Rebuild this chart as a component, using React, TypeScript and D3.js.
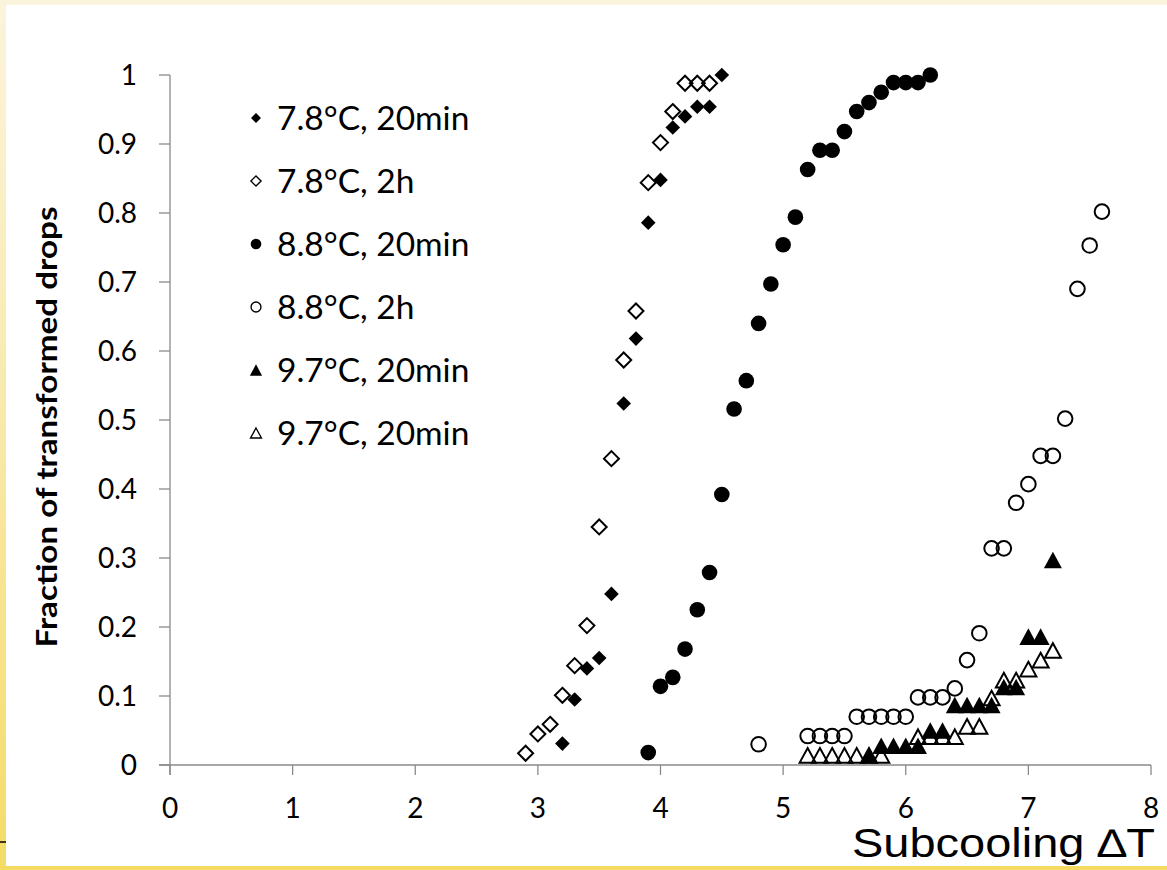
import React from "react";
import * as d3 from "d3";

// ---- data ----
const xTicks = [0, 1, 2, 3, 4, 5, 6, 7, 8];
const yTicks = [0, 0.1, 0.2, 0.3, 0.4, 0.5, 0.6, 0.7, 0.8, 0.9, 1];
const yTickLabels = ["0", "0.1", "0.2", "0.3", "0.4", "0.5", "0.6", "0.7", "0.8", "0.9", "1"];

const s1x = [3.2, 3.3, 3.4, 3.5, 3.6, 3.7, 3.8, 3.9, 4.0, 4.1, 4.2, 4.3, 4.4, 4.5];
const s1y = [0.031, 0.095, 0.14, 0.155, 0.248, 0.524, 0.618, 0.786, 0.848, 0.924, 0.94, 0.954, 0.954, 1.0];

const s2x = [2.9, 3.0, 3.1, 3.2, 3.3, 3.4, 3.5, 3.6, 3.7, 3.8, 3.9, 4.0, 4.1, 4.2, 4.3, 4.4];
const s2y = [0.017, 0.045, 0.059, 0.101, 0.144, 0.202, 0.345, 0.444, 0.587, 0.658, 0.844, 0.902, 0.947, 0.988, 0.988, 0.988];

const s3x = [3.9, 4.0, 4.1, 4.2, 4.3, 4.4, 4.5, 4.6, 4.7, 4.8, 4.9, 5.0, 5.1, 5.2, 5.3, 5.4, 5.5, 5.6, 5.7, 5.8, 5.9, 6.0, 6.1, 6.2];
const s3y = [0.018, 0.114, 0.127, 0.168, 0.225, 0.279, 0.392, 0.516, 0.557, 0.64, 0.697, 0.754, 0.794, 0.863, 0.891, 0.891, 0.918, 0.947, 0.96, 0.975, 0.989, 0.989, 0.989, 1.0];

const s4x = [4.8, 5.2, 5.3, 5.4, 5.5, 5.6, 5.7, 5.8, 5.9, 6.0, 6.1, 6.2, 6.3, 6.4, 6.5, 6.6, 6.7, 6.8, 6.9, 7.0, 7.1, 7.2, 7.3, 7.4, 7.5, 7.6];
const s4y = [0.03, 0.042, 0.042, 0.042, 0.042, 0.07, 0.07, 0.07, 0.07, 0.07, 0.098, 0.098, 0.098, 0.111, 0.152, 0.191, 0.314, 0.314, 0.38, 0.407, 0.448, 0.448, 0.502, 0.69, 0.753, 0.802];

const s5x = [5.7, 5.8, 5.9, 6.0, 6.1, 6.2, 6.3, 6.4, 6.5, 6.6, 6.7, 6.8, 6.9, 7.0, 7.1, 7.2];
const s5y = [0.014, 0.028, 0.028, 0.028, 0.028, 0.05, 0.05, 0.087, 0.087, 0.087, 0.087, 0.113, 0.113, 0.186, 0.186, 0.297];

const s6x = [5.2, 5.3, 5.4, 5.5, 5.6, 5.7, 5.8, 6.1, 6.2, 6.3, 6.4, 6.5, 6.6, 6.7, 6.8, 6.9, 7.0, 7.1, 7.2];
const s6y = [0.014, 0.014, 0.014, 0.014, 0.014, 0.014, 0.014, 0.041, 0.041, 0.041, 0.041, 0.056, 0.056, 0.097, 0.123, 0.123, 0.139, 0.152, 0.166];

const legendLabels = ["7.8°C, 20min", "7.8°C, 2h", "8.8°C, 20min", "8.8°C, 2h", "9.7°C, 20min", "9.7°C, 20min"];
const yAxisTitle = "Fraction of transformed drops";
const xAxisTitle = "Subcooling ∆T";

type Shape = "diamond" | "circle" | "triangle";
const seriesDefs: { xs: number[]; ys: number[]; shape: Shape; filled: boolean }[] = [
  { xs: s1x, ys: s1y, shape: "diamond", filled: true },
  { xs: s2x, ys: s2y, shape: "diamond", filled: false },
  { xs: s3x, ys: s3y, shape: "circle", filled: true },
  { xs: s4x, ys: s4y, shape: "circle", filled: false },
  { xs: s5x, ys: s5y, shape: "triangle", filled: true },
  { xs: s6x, ys: s6y, shape: "triangle", filled: false },
];

const W = 1167;
const H = 870;
const xScale = d3.scaleLinear().domain([0, 8]).range([170, 1151]);
const yScale = d3.scaleLinear().domain([0, 1]).range([765, 75]);
const axisColor = "#8a8a8a";
const font = "Lato, 'Open Sans', sans-serif";

function Marker({ shape, filled, cx, cy, s }: { shape: Shape; filled: boolean; cx: number; cy: number; s: number }) {
  const fill = filled ? "#000" : "none";
  const stroke = "#000";
  const sw = filled ? 0 : 2 * s;
  if (shape === "circle") {
    const r = filled ? 7.8 * s : 7.3 * s;
    return <circle cx={cx} cy={cy} r={r} fill={fill} stroke={filled ? "none" : stroke} strokeWidth={sw} />;
  }
  if (shape === "diamond") {
    const h = filled ? 7.3 * s : 7.5 * s;
    const p = d3.path();
    p.moveTo(cx, cy - h);
    p.lineTo(cx + h, cy);
    p.lineTo(cx, cy + h);
    p.lineTo(cx - h, cy);
    p.closePath();
    return <path d={p.toString()} fill={fill} stroke={filled ? "none" : stroke} strokeWidth={sw} strokeLinejoin="miter" />;
  }
  const w = (filled ? 9 : 8) * s;
  const hh = (filled ? 8.3 : 7.3) * s;
  const p = d3.path();
  p.moveTo(cx, cy - hh);
  p.lineTo(cx + w, cy + hh);
  p.lineTo(cx - w, cy + hh);
  p.closePath();
  return <path d={p.toString()} fill={fill} stroke={filled ? "none" : stroke} strokeWidth={sw} strokeLinejoin="miter" />;
}

export default function App() {
  const legendX = 256;
  const legendTextX = 277;
  const legendY0 = 118;
  const legendDy = 63;
  return (
    <svg
      width={W}
      height={H}
      viewBox={`0 0 ${W} ${H}`}
      style={{ position: "fixed", left: 0, top: 0, display: "block" }}
    >
      <defs>
        <linearGradient id="leftStrip" x1="0" y1="0" x2="0" y2="1">
          <stop offset="0" stopColor="#fbf4dc" />
          <stop offset="0.5" stopColor="#f8e9a8" />
          <stop offset="1" stopColor="#f5db66" />
        </linearGradient>
      </defs>
      <rect x={0} y={0} width={W} height={H} fill="#ffffff" />

      {/* axes */}
      <line x1={xScale(0)} x2={xScale(0)} y1={yScale(1)} y2={yScale(0) + 10} stroke={axisColor} strokeWidth={1.3} />
      <line x1={xScale(0) - 11} x2={xScale(8)} y1={yScale(0)} y2={yScale(0)} stroke={axisColor} strokeWidth={1.3} />
      {yTicks.map((t, i) => (
        <g key={"yt" + i}>
          <line x1={xScale(0) - 11} x2={xScale(0)} y1={yScale(t)} y2={yScale(t)} stroke={axisColor} strokeWidth={1.3} />
          <text
            x={137}
            y={yScale(t)}
            dy="0.36em"
            textAnchor="end"
            fontFamily={font}
            fontSize={28}
            fill="#000"
          >
            {yTickLabels[i]}
          </text>
        </g>
      ))}
      {xTicks.map((t, i) => (
        <g key={"xt" + i}>
          <line x1={xScale(t)} x2={xScale(t)} y1={yScale(0)} y2={yScale(0) + 10} stroke={axisColor} strokeWidth={1.3} />
          <text x={xScale(t)} y={818} textAnchor="middle" fontFamily={font} fontSize={28} fill="#000">
            {String(t)}
          </text>
        </g>
      ))}

      {/* y title */}
      <text
        transform={`translate(57, 427) rotate(-90)`}
        textAnchor="middle"
        fontFamily={font}
        fontWeight={700}
        fontSize={29}
        textLength={441}
        lengthAdjust="spacingAndGlyphs"
        fill="#000"
      >
        {yAxisTitle}
      </text>

      {/* data */}
      {seriesDefs.map((sd, si) => (
        <g key={"s" + si}>
          {sd.xs.map((x, j) => (
            <Marker key={j} shape={sd.shape} filled={sd.filled} cx={xScale(x)} cy={yScale(sd.ys[j])} s={1} />
          ))}
        </g>
      ))}

      {/* legend */}
      {seriesDefs.map((sd, i) => (
        <g key={"lg" + i}>
          <Marker shape={sd.shape} filled={sd.filled} cx={legendX} cy={legendY0 + i * legendDy} s={0.68} />
          <text
            x={legendTextX}
            y={legendY0 + i * legendDy}
            dy="0.36em"
            fontFamily={font}
            fontSize={33.5}
            fill="#000"
          >
            {legendLabels[i]}
          </text>
        </g>
      ))}

      {/* x title */}
      <text
        x={852}
        y={857}
        fontFamily="'Liberation Sans', Arial, sans-serif"
        fontSize={40}
        textLength={303}
        lengthAdjust="spacingAndGlyphs"
        fill="#000"
      >
        {xAxisTitle}
      </text>

      {/* frame strips */}
      <rect x={0} y={0} width={W} height={5} fill="#fbf4dc" />
      <rect x={0} y={0} width={6} height={H} fill="url(#leftStrip)" />
      <rect x={0} y={866} width={W} height={4} fill="#f5da62" />
      <line x1={0} x2={6} y1={842} y2={842} stroke="#000" strokeWidth={1.5} />
    </svg>
  );
}
